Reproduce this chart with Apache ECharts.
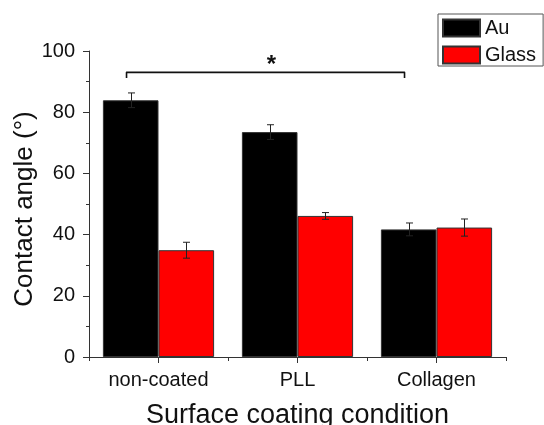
<!DOCTYPE html>
<html>
<head>
<meta charset="utf-8">
<title>Contact angle</title>
<script src="https://cdn.jsdelivr.net/npm/echarts@6/dist/echarts.min.js"></script>
<style>
  html, body { margin: 0; padding: 0; background: #fff; }
  #chart { width: 544px; height: 425px; }
</style>
</head>
<body>
<div id="chart"></div>
<script>
// data
const categories = ['non-coated', 'PLL', 'Collagen'];
const seriesNames = ['Au', 'Glass'];
const auValues = [83.9, 73.5, 41.7];
const auErrors = [2.4, 2.4, 2.1];
const glassValues = [34.9, 46.1, 42.3];
const glassErrors = [2.6, 1.1, 2.8];
const yTicks = { min: 0, max: 100, interval: 20 };
// bracket between Au bars: [fromCategory, toCategory, level, tipLevel, markLevel]
const bracket = [[0, 2, 93, 91.2, 95.2]];
const bracketMark = '*';

const colors = ['#000000', '#ff0000'];
const font = '"Liberation Sans", Arial, sans-serif';
const axisColor = '#333';
const barWidthRatio = 0.4;

const chart = echarts.init(document.getElementById('chart'));

const gridBox = { left: 89, right: 38, top: 51, bottom: 68 };

function errorSeries(values, errors, idx) {
  return {
    type: 'custom',
    xAxisIndex: 0,
    yAxisIndex: 0,
    z: 5,
    silent: true,
    encode: { x: 0, y: [1, 2] },
    data: values.map((v, i) => [i, v - errors[i], v + errors[i]]),
    renderItem: (params, api) => {
      const band = api.size([1, 0])[0];
      const dx = (idx - 0.5) * barWidthRatio * band;
      const lo = api.coord([api.value(0), api.value(1)]);
      const hi = api.coord([api.value(0), api.value(2)]);
      const x = Math.round(lo[0] + dx) + 0.5;
      const cap = 3.5;
      const style = { stroke: '#222', lineWidth: 1 };
      return {
        type: 'group',
        children: [
          { type: 'line', shape: { x1: x, y1: lo[1], x2: x, y2: hi[1] }, style },
          { type: 'line', shape: { x1: x - cap, y1: hi[1], x2: x + cap, y2: hi[1] }, style },
          { type: 'line', shape: { x1: x - cap, y1: lo[1], x2: x + cap, y2: lo[1] }, style }
        ]
      };
    }
  };
}

const option = {
  backgroundColor: '#fff',
  animation: false,
  textStyle: { fontFamily: font },
  legend: {
    data: seriesNames,
    orient: 'vertical',
    left: 438,
    top: 14,
    padding: [4, 7, 1, 4],
    itemGap: 7,
    itemWidth: 37,
    itemHeight: 17,
    itemTextGap: 5,
    borderColor: '#555',
    borderWidth: 1,
    icon: 'rect',
    textStyle: { fontSize: 20, color: '#111', fontFamily: font }
  },
  grid: [
    Object.assign({ outerBoundsMode: 'none' }, gridBox),
    Object.assign({ outerBoundsMode: 'none' }, gridBox)
  ],
  xAxis: [
    {
      type: 'category',
      gridIndex: 0,
      data: categories,
      axisLine: { lineStyle: { color: axisColor, width: 1 } },
      axisTick: { show: true, alignWithLabel: false, length: 4, lineStyle: { color: axisColor } },
      axisLabel: { fontSize: 20, color: '#111', margin: 13, fontFamily: font },
      name: 'Surface coating condition',
      nameLocation: 'middle',
      nameGap: 45,
      nameTextStyle: { fontSize: 27, color: '#111', fontFamily: font },
      splitLine: { show: false }
    },
    {
      // ticks at category centres
      type: 'category',
      gridIndex: 1,
      data: categories,
      axisLine: { show: false },
      axisTick: { show: true, alignWithLabel: true, length: 6, lineStyle: { color: axisColor } },
      axisLabel: { show: false },
      splitLine: { show: false }
    }
  ],
  yAxis: [
    {
      type: 'value',
      gridIndex: 0,
      min: yTicks.min,
      max: yTicks.max,
      interval: yTicks.interval,
      axisLine: { show: true, lineStyle: { color: axisColor, width: 1 } },
      axisTick: { show: true, length: 6, lineStyle: { color: axisColor } },
      minorTick: { show: true, splitNumber: 2, length: 3, lineStyle: { color: axisColor } },
      splitLine: { show: false },
      axisLabel: { fontSize: 20, color: '#111', margin: 14, fontFamily: font },
      name: 'Contact angle (°)',
      nameLocation: 'middle',
      nameGap: 51,
      nameMoveOverlap: false,
      nameRotate: 90,
      nameTextStyle: { fontSize: 26, color: '#111', fontFamily: font, padding: [0, 10, 0, 0] }
    },
    {
      type: 'value',
      gridIndex: 1,
      min: yTicks.min,
      max: yTicks.max,
      show: false
    }
  ],
  series: [
    {
      name: seriesNames[0],
      type: 'bar',
      xAxisIndex: 0,
      yAxisIndex: 0,
      data: auValues,
      barWidth: (barWidthRatio * 100) + '%',
      barGap: '0%',
      itemStyle: { color: colors[0], borderColor: '#333', borderWidth: 1 }
    },
    {
      name: seriesNames[1],
      type: 'bar',
      xAxisIndex: 0,
      yAxisIndex: 0,
      data: glassValues,
      barWidth: (barWidthRatio * 100) + '%',
      barGap: '0%',
      itemStyle: { color: colors[1], borderColor: '#333', borderWidth: 1 }
    },
    errorSeries(auValues, auErrors, 0),
    errorSeries(glassValues, glassErrors, 1),
    {
      type: 'custom',
      xAxisIndex: 0,
      yAxisIndex: 0,
      z: 6,
      silent: true,
      encode: { x: [0, 1], y: [2, 3, 4] },
      data: bracket,
      renderItem: (params, api) => {
        const band = api.size([1, 0])[0];
        const dx = -0.23 * band;
        const a = api.coord([api.value(0), api.value(2)]);
        const b = api.coord([api.value(1), api.value(2)]);
        const tip = api.coord([api.value(0), api.value(3)]);
        const mark = api.coord([api.value(0), api.value(4)]);
        const x1 = a[0] + dx;
        const x2 = b[0] + dx;
        return {
          type: 'group',
          children: [
            {
              type: 'polyline',
              shape: { points: [[x1, tip[1]], [x1, a[1]], [x2, a[1]], [x2, tip[1]]] },
              style: { stroke: '#111', lineWidth: 1.6, fill: null, lineJoin: 'round' }
            },
            {
              type: 'text',
              x: (x1 + x2) / 2 + 6,
              y: mark[1],
              style: {
                text: bracketMark,
                fontSize: 24,
                fontWeight: 'bold',
                fill: '#111',
                align: 'center',
                verticalAlign: 'middle',
                fontFamily: font
              }
            }
          ]
        };
      }
    }
  ]
};

chart.setOption(option);
</script>
</body>
</html>
